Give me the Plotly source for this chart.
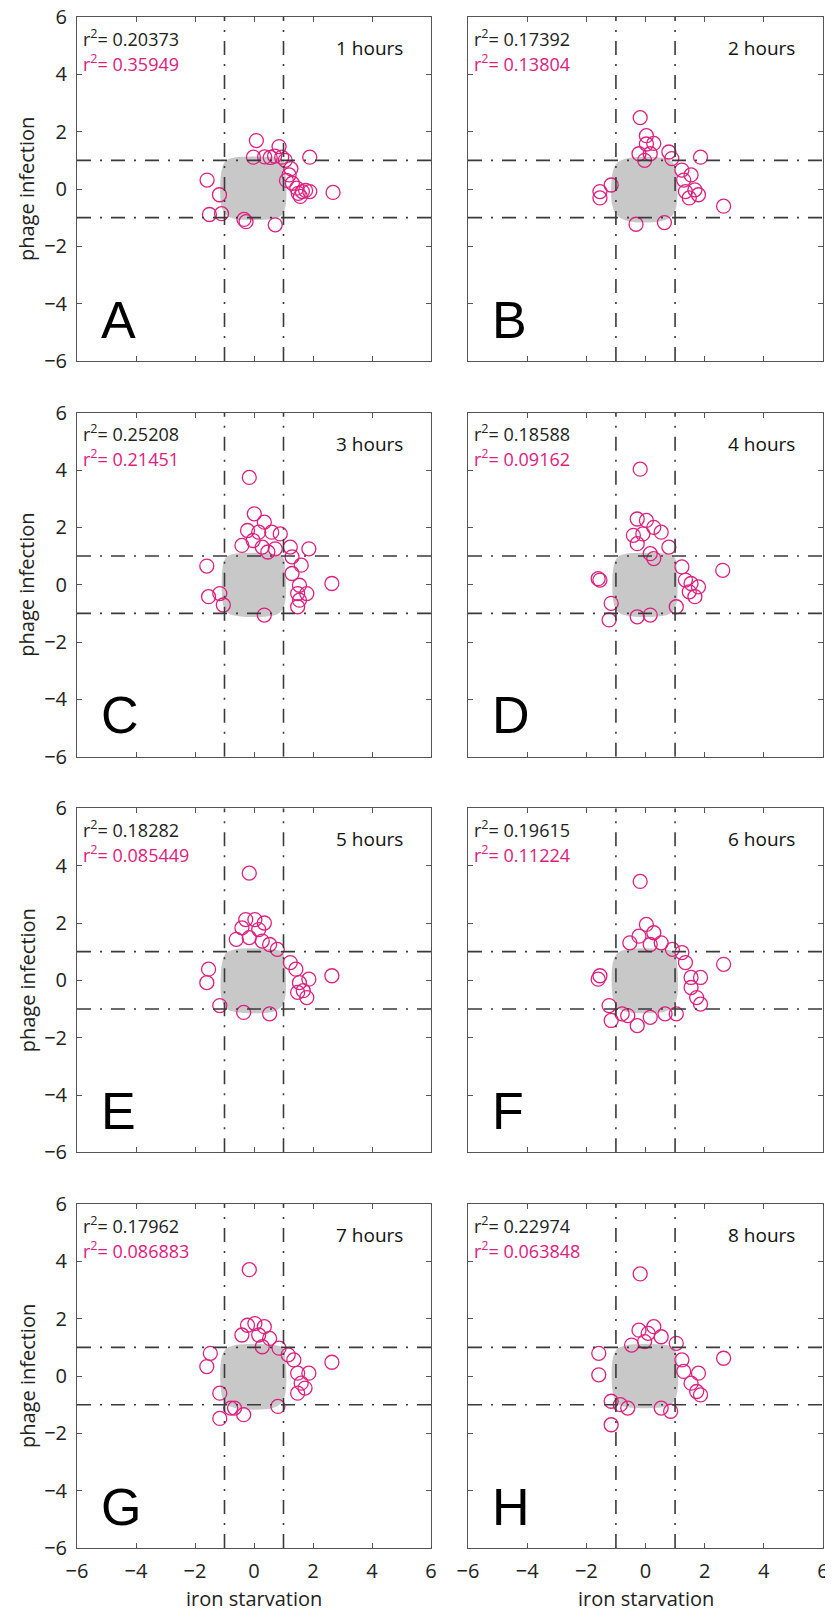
import plotly.graph_objects as go

# ---------------- data ----------------
LETTERS = ["A", "B", "C", "D", "E", "F", "G", "H"]
HOURS = ["1 hours", "2 hours", "3 hours", "4 hours", "5 hours", "6 hours", "7 hours", "8 hours"]
R2_ALL = ["0.20373", "0.17392", "0.25208", "0.18588", "0.18282", "0.19615", "0.17962", "0.22974"]
R2_OUT = ["0.35949", "0.13804", "0.21451", "0.09162", "0.085449", "0.11224", "0.086883", "0.063848"]
X_TITLE = "iron starvation"
Y_TITLE = "phage infection"

TICKS = [-6, -4, -2, 0, 2, 4, 6]
THRESHOLDS = [-1, 1]
AXIS_RANGE = [-6, 6]

# outlier genes (magenta) per panel
A_x = [0.08, 0.85, 1.89, -0.02, 0.36, 0.55, 0.7, 0.94, 1.06, 1.25, 1.19, 1.3, 1.45, 1.64, 1.89, 1.57, 1.75, 1.5, 2.68, -1.59, -1.17, -1.51, -1.1, -0.34, -0.27, 0.72, 1.1]
A_y = [1.69, 1.48, 1.11, 1.11, 1.12, 1.1, 1.15, 1.11, 1.0, 0.71, 0.49, 0.2, 0.03, -0.09, -0.09, -0.26, -0.05, -0.15, -0.12, 0.31, -0.2, -0.89, -0.86, -1.06, -1.14, -1.25, 0.3]
B_x = [-0.18, 0.03, 0.28, 0.03, -0.22, 0.16, -0.03, 0.79, 0.89, 1.86, 1.23, 1.54, 1.29, 1.35, 1.67, 1.79, 1.48, 2.64, -1.16, -1.54, -1.54, -0.32, 0.64]
B_y = [2.49, 1.86, 1.59, 1.57, 1.23, 1.23, 1.0, 1.29, 1.06, 1.11, 0.66, 0.49, 0.31, -0.09, -0.03, -0.2, -0.31, -0.6, 0.14, -0.09, -0.31, -1.23, -1.17]
C_x = [-0.16, 0.01, 0.35, -0.22, 0.16, 0.6, 0.89, -0.41, -0.03, 0.28, 0.47, 0.72, 1.86, 1.23, 1.29, 1.6, 1.29, 1.54, 1.79, 1.48, 1.54, 1.48, 2.64, -1.6, -1.54, -1.16, -1.04, 0.35]
C_y = [3.74, 2.47, 2.18, 1.89, 1.83, 1.83, 1.77, 1.37, 1.54, 1.31, 1.14, 1.25, 1.25, 1.31, 0.97, 0.68, 0.39, -0.02, -0.31, -0.31, -0.54, -0.77, 0.04, 0.65, -0.42, -0.31, -0.71, -1.06]
D_x = [-0.18, -0.28, 0.03, 0.28, -0.41, -0.09, 0.53, 0.79, -0.28, 0.16, 0.28, 1.23, 1.35, 1.54, 1.79, 1.48, 1.67, 2.61, -1.6, -1.54, -1.16, -1.23, -0.28, 0.16, 1.04]
D_y = [4.03, 2.29, 2.24, 2.0, 1.72, 1.77, 1.83, 1.31, 1.43, 1.08, 0.91, 0.62, 0.16, 0.04, -0.08, -0.25, -0.42, 0.5, 0.21, 0.16, -0.65, -1.23, -1.12, -1.06, -0.77]
E_x = [-0.16, -0.28, 0.03, 0.35, -0.41, 0.16, -0.6, -0.16, 0.28, 0.53, 0.79, 1.23, 1.42, 1.86, 1.54, 1.67, 1.79, 1.48, 2.64, -1.54, -1.6, -1.16, -0.35, 0.53]
E_y = [3.74, 2.12, 2.12, 2.0, 1.83, 1.77, 1.43, 1.49, 1.37, 1.25, 1.08, 0.62, 0.39, 0.04, -0.08, -0.36, -0.6, -0.42, 0.16, 0.39, -0.08, -0.88, -1.12, -1.17]
F_x = [-0.18, 0.03, 0.28, -0.22, -0.53, 0.16, 0.53, 0.91, 1.23, 1.35, 1.54, 1.86, 1.54, 1.73, 1.86, 2.64, -1.54, -1.6, -1.23, -1.16, -0.79, -0.6, -0.28, 0.16, 0.66, 1.04]
F_y = [3.45, 1.95, 1.66, 1.54, 1.31, 1.25, 1.31, 1.08, 0.97, 0.62, 0.1, 0.1, -0.25, -0.6, -0.83, 0.56, 0.16, 0.04, -0.88, -1.4, -1.17, -1.23, -1.58, -1.29, -1.17, -1.17]
G_x = [-0.16, -0.22, 0.03, 0.35, -0.41, 0.16, 0.53, 0.28, 0.85, 1.16, 1.35, 1.48, 1.86, 1.6, 1.73, 1.48, 2.64, -1.48, -1.6, -1.16, -0.79, -0.66, -0.35, -1.16, 0.81]
G_y = [3.71, 1.77, 1.83, 1.72, 1.43, 1.43, 1.31, 1.02, 0.97, 0.74, 0.56, 0.1, 0.1, -0.25, -0.42, -0.6, 0.48, 0.79, 0.33, -0.6, -1.12, -1.12, -1.35, -1.48, -1.06]
H_x = [-0.18, -0.22, 0.28, 0.09, 0.53, -0.47, -0.03, 1.04, 1.23, 1.29, 1.79, 1.54, 1.73, 1.86, 2.64, -1.58, -1.58, -1.16, -0.85, -0.6, -1.16, 0.53, 0.85]
H_y = [3.56, 1.6, 1.72, 1.49, 1.37, 1.08, 1.2, 1.14, 0.56, 0.16, 0.1, -0.25, -0.54, -0.66, 0.62, 0.79, 0.04, -0.88, -1.0, -1.12, -1.7, -1.12, -1.23]

# outline of the dense grey cloud of all genes per panel
CLOUD_A_x = [-1.02, -0.9, -0.6, 0.6, 0.92, 0.98, 0.98, 0.85, 0.6, -0.6, -0.88, -1.02]
CLOUD_A_y = [0.6, 0.92, 1.02, 1.02, 0.95, 0.6, -0.6, -0.88, -0.96, -0.96, -0.85, -0.6]
CLOUD_B_x = [-1.04, -0.9, -0.55, 0.55, 0.85, 0.96, 0.96, 0.82, 0.5, -0.55, -0.88, -1.04]
CLOUD_B_y = [0.5, 0.85, 1.0, 1.0, 0.88, 0.55, -0.6, -0.9, -1.04, -1.04, -0.88, -0.55]
CLOUD_C_x = [-0.98, -0.88, -0.6, 0.6, 0.9, 0.97, 0.97, 0.85, 0.6, -0.6, -0.88, -0.98]
CLOUD_C_y = [0.6, 0.9, 1.0, 1.0, 0.92, 0.6, -0.6, -0.88, -1.0, -1.0, -0.88, -0.6]
CLOUD_D_x = [-1.0, -0.88, -0.6, 0.6, 0.9, 0.97, 0.97, 0.85, 0.6, -0.6, -0.88, -1.0]
CLOUD_D_y = [0.6, 0.9, 1.0, 1.0, 0.92, 0.6, -0.6, -0.88, -1.0, -1.0, -0.88, -0.6]
CLOUD_E_x = [-1.0, -0.88, -0.6, 0.6, 0.9, 0.97, 0.97, 0.85, 0.6, -0.6, -0.9, -1.02]
CLOUD_E_y = [0.6, 0.9, 1.0, 1.0, 0.92, 0.6, -0.6, -0.88, -1.02, -1.02, -0.9, -0.6]
CLOUD_F_x = [-1.02, -0.88, -0.6, 0.6, 0.9, 0.98, 0.98, 0.85, 0.6, -0.6, -0.9, -1.02]
CLOUD_F_y = [0.6, 0.9, 1.0, 1.0, 0.92, 0.6, -0.6, -0.88, -1.02, -1.02, -0.9, -0.6]
CLOUD_G_x = [-1.02, -0.88, -0.6, 0.6, 0.9, 0.98, 0.98, 0.85, 0.6, -0.6, -0.9, -1.02]
CLOUD_G_y = [0.6, 0.9, 1.0, 1.0, 0.92, 0.6, -0.6, -0.9, -1.04, -1.04, -0.9, -0.6]
CLOUD_H_x = [-1.02, -0.88, -0.6, 0.6, 0.9, 0.98, 0.98, 0.85, 0.6, -0.6, -0.9, -1.02]
CLOUD_H_y = [0.6, 0.9, 1.0, 1.0, 0.92, 0.6, -0.6, -0.88, -1.0, -1.0, -0.9, -0.6]

OUT_X = [A_x, B_x, C_x, D_x, E_x, F_x, G_x, H_x]
OUT_Y = [A_y, B_y, C_y, D_y, E_y, F_y, G_y, H_y]
CLOUD_X = [CLOUD_A_x, CLOUD_B_x, CLOUD_C_x, CLOUD_D_x, CLOUD_E_x, CLOUD_F_x, CLOUD_G_x, CLOUD_H_x]
CLOUD_Y = [CLOUD_A_y, CLOUD_B_y, CLOUD_C_y, CLOUD_D_y, CLOUD_E_y, CLOUD_F_y, CLOUD_G_y, CLOUD_H_y]

# ---------------- layout geometry ----------------
W, H = 833, 1613
OFF_X, OFF_Y = 8, 8  # page body margin offset of the plot div
COL_X = [(77 - OFF_X, 431 - OFF_X), (468 - OFF_X, 823 - OFF_X)]
ROW_TOP0, ROW_PITCH, PANEL_H = 17 - OFF_Y, 395.67, 344

MAGENTA = "#dc2080"
GREY = "#c8c8c8"
AXCOL = "#555555"
TXT = "Open Sans"
TICKFONT = dict(size=20, family=TXT, color="#222222")
TITLEFONT = dict(size=20, family=TXT, color="#222222")
DASH = dict(color="#3a3a3a", width=1.6, dash="14px,9px,2px,9px")

fig = go.Figure()
layout = dict(
    width=W, height=H, autosize=False,
    margin=dict(l=0, r=0, t=0, b=0),
    paper_bgcolor="white", plot_bgcolor="white",
    showlegend=False,
    font=dict(family=TXT, color="#222222", size=19),
)
annotations = []
shapes = []

for i in range(8):
    r, c = divmod(i, 2)
    n = "" if i == 0 else str(i + 1)
    xa, ya = "x" + n, "y" + n
    x0p, x1p = COL_X[c]
    top = ROW_TOP0 + r * ROW_PITCH
    bot = top + PANEL_H
    xdom = [x0p / W, x1p / W]
    ydom = [1 - bot / H, 1 - top / H]

    layout["xaxis" + n] = dict(
        domain=xdom, range=AXIS_RANGE, anchor=ya, tickvals=TICKS,
        ticks="inside", ticklen=5, tickcolor=AXCOL, showline=True, linecolor=AXCOL,
        linewidth=1, mirror="ticks", showgrid=False, zeroline=False,
        showticklabels=(r == 3), tickfont=TICKFONT, ticklabelstandoff=5,
        ticklabeloverflow="allow", automargin=False,
    )
    layout["yaxis" + n] = dict(
        domain=ydom, range=AXIS_RANGE, anchor=xa, tickvals=TICKS,
        ticks="inside", ticklen=5, tickcolor=AXCOL, showline=True, linecolor=AXCOL,
        linewidth=1, mirror="ticks", showgrid=False, zeroline=False,
        showticklabels=(c == 0), tickfont=TICKFONT, ticklabelstandoff=5,
        ticklabeloverflow="allow", automargin=False,
    )

    # grey cloud of all genes
    fig.add_trace(go.Scatter(
        x=CLOUD_X[i] + [CLOUD_X[i][0]], y=CLOUD_Y[i] + [CLOUD_Y[i][0]],
        xaxis=xa, yaxis=ya, mode="lines", fill="toself", fillcolor=GREY,
        line=dict(color=GREY, width=5, shape="spline"), hoverinfo="skip",
    ))
    # outlier genes
    fig.add_trace(go.Scatter(
        x=OUT_X[i], y=OUT_Y[i], xaxis=xa, yaxis=ya, mode="markers",
        marker=dict(symbol="circle-open", size=14, color=MAGENTA, line=dict(width=1.3, color=MAGENTA)),
    ))

    # threshold lines
    for t in THRESHOLDS:
        shapes.append(dict(type="line", xref=xa, yref=ya, x0=t, x1=t, y0=AXIS_RANGE[0], y1=AXIS_RANGE[1],
                           line=DASH, layer="above"))
        shapes.append(dict(type="line", xref=xa, yref=ya, x0=AXIS_RANGE[0], x1=AXIS_RANGE[1], y0=t, y1=t,
                           line=DASH, layer="above"))

    xd, yd = xa + " domain", ya + " domain"
    annotations.append(dict(xref=xd, yref=yd, x=0.012, y=0.94, xanchor="left", yanchor="middle",
                            text="r<sup>2</sup>= " + R2_ALL[i], showarrow=False,
                            font=dict(size=18, family=TXT, color="#222")))
    annotations.append(dict(xref=xd, yref=yd, x=0.012, y=0.867, xanchor="left", yanchor="middle",
                            text="r<sup>2</sup>= " + R2_OUT[i], showarrow=False,
                            font=dict(size=18, family=TXT, color=MAGENTA)))
    annotations.append(dict(xref=xd, yref=yd, x=0.927, y=0.91, xanchor="right", yanchor="middle",
                            text=HOURS[i], showarrow=False,
                            font=dict(size=19, family=TXT, color="#111")))
    annotations.append(dict(xref=xd, yref=yd, x=0.062, y=0.12, xanchor="left", yanchor="middle",
                            text=LETTERS[i], showarrow=False,
                            font=dict(size=52, family="Liberation Sans", color="#000")))

    # axis titles
    if r == 3:
        annotations.append(dict(xref=xd, yref="paper", x=0.5, y=1 - (1598 - OFF_Y) / H,
                                xanchor="center", yanchor="middle", text=X_TITLE,
                                showarrow=False, font=TITLEFONT))
    if c == 0:
        annotations.append(dict(xref="paper", yref=yd, x=(27 - OFF_X) / W, y=0.5,
                                xanchor="center", yanchor="middle", text=Y_TITLE, textangle=-90,
                                showarrow=False, font=TITLEFONT))

layout["annotations"] = annotations
layout["shapes"] = shapes
fig.update_layout(**layout)
fig.write_html("out.html")
